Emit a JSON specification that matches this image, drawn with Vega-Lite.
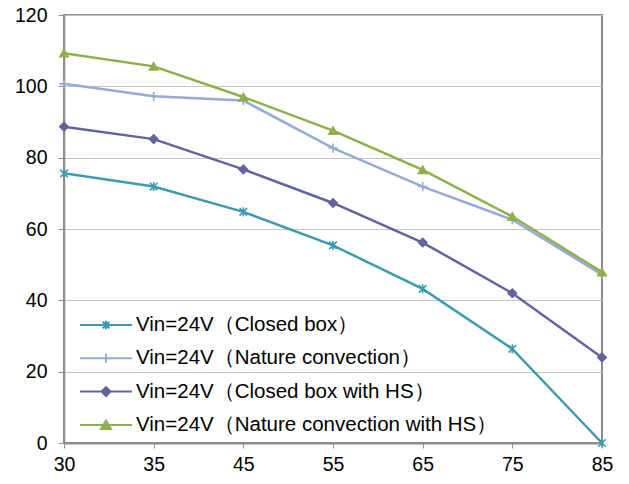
{
  "$schema": "https://vega.github.io/schema/vega-lite/v6.json",
  "width": 538,
  "height": 428,
  "autosize": {"type": "none"},
  "padding": {"left": 64, "top": 15, "right": 27, "bottom": 41},
  "background": "white",
  "config": {
    "font": "Liberation Sans",
    "view": {"stroke": "#8c8c8c", "strokeWidth": 2}
  },
  "data": {
    "values": [
      {"temp": 30, "series": "Vin=24V（Closed box）", "value": 75.6},
      {"temp": 35, "series": "Vin=24V（Closed box）", "value": 71.9},
      {"temp": 45, "series": "Vin=24V（Closed box）", "value": 64.8},
      {"temp": 55, "series": "Vin=24V（Closed box）", "value": 55.4},
      {"temp": 65, "series": "Vin=24V（Closed box）", "value": 43.2},
      {"temp": 75, "series": "Vin=24V（Closed box）", "value": 26.4},
      {"temp": 85, "series": "Vin=24V（Closed box）", "value": 0},
      {"temp": 30, "series": "Vin=24V（Nature convection）", "value": 100.7},
      {"temp": 35, "series": "Vin=24V（Nature convection）", "value": 97.2},
      {"temp": 45, "series": "Vin=24V（Nature convection）", "value": 96.0},
      {"temp": 55, "series": "Vin=24V（Nature convection）", "value": 82.7},
      {"temp": 65, "series": "Vin=24V（Nature convection）", "value": 71.9},
      {"temp": 75, "series": "Vin=24V（Nature convection）", "value": 62.6},
      {"temp": 85, "series": "Vin=24V（Nature convection）", "value": 47.2},
      {"temp": 30, "series": "Vin=24V（Closed box with HS）", "value": 88.7},
      {"temp": 35, "series": "Vin=24V（Closed box with HS）", "value": 85.2},
      {"temp": 45, "series": "Vin=24V（Closed box with HS）", "value": 76.7},
      {"temp": 55, "series": "Vin=24V（Closed box with HS）", "value": 67.3},
      {"temp": 65, "series": "Vin=24V（Closed box with HS）", "value": 56.2},
      {"temp": 75, "series": "Vin=24V（Closed box with HS）", "value": 42.0},
      {"temp": 85, "series": "Vin=24V（Closed box with HS）", "value": 24.0},
      {"temp": 30, "series": "Vin=24V（Nature convection with HS）", "value": 109.3},
      {"temp": 35, "series": "Vin=24V（Nature convection with HS）", "value": 105.6},
      {"temp": 45, "series": "Vin=24V（Nature convection with HS）", "value": 97.0},
      {"temp": 55, "series": "Vin=24V（Nature convection with HS）", "value": 87.6},
      {"temp": 65, "series": "Vin=24V（Nature convection with HS）", "value": 76.6},
      {"temp": 75, "series": "Vin=24V（Nature convection with HS）", "value": 63.5},
      {"temp": 85, "series": "Vin=24V（Nature convection with HS）", "value": 47.9}
    ]
  },
  "encoding": {
    "x": {
      "field": "temp",
      "type": "ordinal",
      "scale": {"type": "point", "padding": 0},
      "axis": {
        "title": null,
        "labelAngle": 0,
        "labelFontSize": 19.5,
        "labelColor": "black",
        "labelPadding": 7,
        "tickSize": 5,
        "tickColor": "#8c8c8c",
        "domainColor": "#8c8c8c",
        "domainWidth": 2,
        "grid": false
      }
    },
    "y": {
      "field": "value",
      "type": "quantitative",
      "scale": {"domain": [0, 120]},
      "axis": {
        "title": null,
        "values": [0, 20, 40, 60, 80, 100, 120],
        "labelFontSize": 19.5,
        "labelColor": "black",
        "labelPadding": 11,
        "tickSize": 6,
        "tickColor": "#8c8c8c",
        "domainColor": "#8c8c8c",
        "domainWidth": 1.5,
        "gridColor": "#c4c4c4",
        "gridWidth": 1
      }
    }
  },
  "layer": [
    {
      "mark": {"type": "line", "strokeWidth": 2.5},
      "encoding": {
        "color": {
          "field": "series",
          "type": "nominal",
          "scale": {
            "domain": ["Vin=24V（Closed box）", "Vin=24V（Nature convection）", "Vin=24V（Closed box with HS）", "Vin=24V（Nature convection with HS）"],
            "range": ["#3c9bb0", "#93abd6", "#6363a0", "#8db04a"]
          },
          "legend": null
        }
      }
    },
    {
      "mark": {"type": "point", "filled": true, "size": 70, "strokeWidth": 1.6, "opacity": 1},
      "encoding": {
        "color": {
          "field": "series",
          "type": "nominal",
          "scale": {
            "domain": ["Vin=24V（Closed box）", "Vin=24V（Nature convection）", "Vin=24V（Closed box with HS）", "Vin=24V（Nature convection with HS）"],
            "range": ["#3c9bb0", "#93abd6", "#6363a0", "#8db04a"]
          },
          "legend": null
        },
        "stroke": {
          "field": "series",
          "type": "nominal",
          "scale": {
            "domain": ["Vin=24V（Closed box）", "Vin=24V（Nature convection）", "Vin=24V（Closed box with HS）", "Vin=24V（Nature convection with HS）"],
            "range": ["#3c9bb0", "#93abd6", "#6363a0", "#8db04a"]
          },
          "legend": null
        },
        "shape": {
          "field": "series",
          "type": "nominal",
          "scale": {
            "domain": ["Vin=24V（Closed box）", "Vin=24V（Nature convection）", "Vin=24V（Closed box with HS）", "Vin=24V（Nature convection with HS）"],
            "range": ["M-0.9,-0.9L0.9,0.9M-0.9,0.9L0.9,-0.9M0,-1.1V1.1", "M-1.1,0H1.1M0,-1.1V1.1", "diamond", "triangle-up"]
          },
          "legend": null
        }
      }
    },
    {
      "transform": [{"filter": "false"}],
      "mark": {"type": "point", "filled": true, "strokeWidth": 2, "opacity": 1},
      "encoding": {
        "color": {
          "field": "series",
          "type": "nominal",
          "scale": {
            "domain": ["Vin=24V（Closed box）", "Vin=24V（Nature convection）", "Vin=24V（Closed box with HS）", "Vin=24V（Nature convection with HS）"],
            "range": ["#3c9bb0", "#93abd6", "#6363a0", "#8db04a"]
          },
          "legend": {
            "title": null, "orient": "none", "legendX": 16, "legendY": 299, "direction": "vertical",
            "symbolSize": 400, "symbolOffset": 15, "labelOffset": 19, "symbolStrokeWidth": 2,
            "labelFontSize": 20.5, "labelFont": "Liberation Sans", "labelColor": "black", "labelLimit": 600,
            "rowPadding": 11.3, "padding": 0
          }
        },
        "stroke": {
          "field": "series",
          "type": "nominal",
          "scale": {
            "domain": ["Vin=24V（Closed box）", "Vin=24V（Nature convection）", "Vin=24V（Closed box with HS）", "Vin=24V（Nature convection with HS）"],
            "range": ["#3c9bb0", "#93abd6", "#6363a0", "#8db04a"]
          },
          "legend": {
            "title": null, "orient": "none", "legendX": 16, "legendY": 299, "direction": "vertical",
            "symbolSize": 400, "symbolOffset": 15, "labelOffset": 19, "symbolStrokeWidth": 2,
            "labelFontSize": 20.5, "labelFont": "Liberation Sans", "labelColor": "black", "labelLimit": 600,
            "rowPadding": 11.3, "padding": 0
          }
        },
        "shape": {
          "field": "series",
          "type": "nominal",
          "scale": {
            "domain": ["Vin=24V（Closed box）", "Vin=24V（Nature convection）", "Vin=24V（Closed box with HS）", "Vin=24V（Nature convection with HS）"],
            "range": [
              "M-2.6,0H2.6M-0.33,-0.33L0.33,0.33M-0.33,0.33L0.33,-0.33M0,-0.42V0.42",
              "M-2.6,0H2.6M0,-0.45V0.45",
              "M-2.6,0H2.6M0,-0.45L0.45,0L0,0.45L-0.45,0Z",
              "M-2.6,0H2.6M0,-0.45L0.5,0.4H-0.5Z"
            ]
          },
          "legend": {
            "title": null, "orient": "none", "legendX": 16, "legendY": 299, "direction": "vertical",
            "symbolSize": 400, "symbolOffset": 15, "labelOffset": 19, "symbolStrokeWidth": 2,
            "labelFontSize": 20.5, "labelFont": "Liberation Sans", "labelColor": "black", "labelLimit": 600,
            "rowPadding": 11.3, "padding": 0
          }
        }
      }
    }
  ],
  "resolve": {"scale": {"color": "independent", "stroke": "independent", "shape": "independent"}}
}
